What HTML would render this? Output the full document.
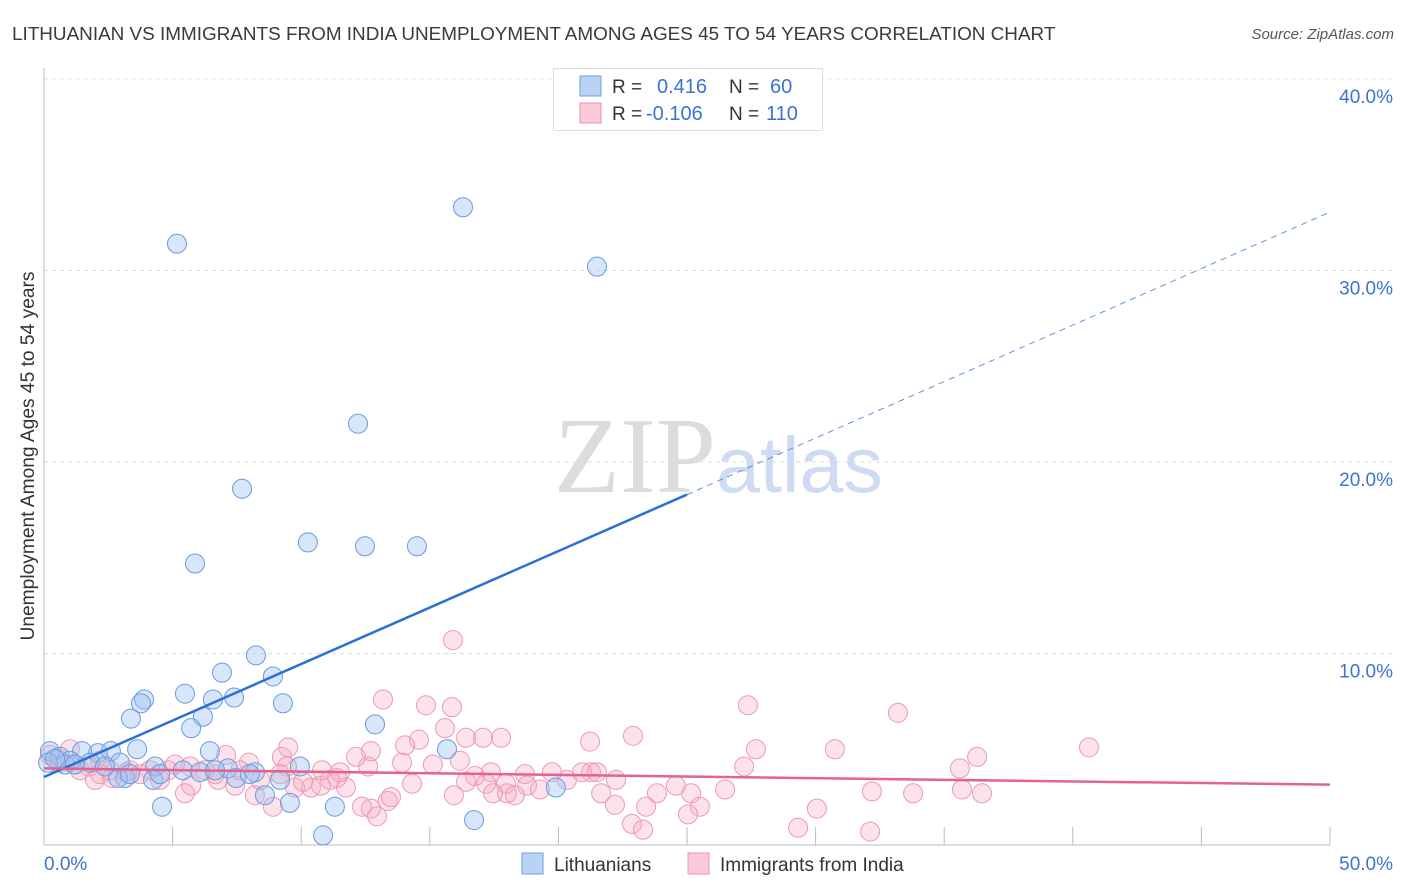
<!DOCTYPE html>
<html><head><meta charset="utf-8">
<style>
body{margin:0;background:#fff;font-family:"Liberation Sans",sans-serif;}
#wrap{position:relative;width:1406px;height:892px;overflow:hidden;}
</style></head>
<body>
<div id="wrap">
<svg id="svg" width="1406" height="892" xmlns="http://www.w3.org/2000/svg">
<text x="12" y="40" font-size="18.9" fill="#3a3a3a">LITHUANIAN VS IMMIGRANTS FROM INDIA UNEMPLOYMENT AMONG AGES 45 TO 54 YEARS CORRELATION CHART</text>
<text x="1394" y="39" font-size="15" fill="#555" font-style="italic" text-anchor="end">Source: ZipAtlas.com</text>
<text x="716" y="492" font-size="108" fill="#dcdcdc" font-family="Liberation Serif,serif" text-anchor="end">ZIP</text>
<text x="716" y="492" font-size="79" fill="#cddcf2">atlas</text>
<text transform="translate(34,456) rotate(-90)" font-size="19.2" fill="#333" text-anchor="middle">Unemployment Among Ages 45 to 54 years</text>
<g id="grid"></g><g id="axes"></g><g id="pts"></g><g id="trend"></g>
<g>
<rect x="553.5" y="68.5" width="269" height="62" fill="#fff" stroke="#ddd"/>
<rect x="580" y="76" width="21" height="20" fill="#b9d3f5" stroke="#6fa0e0"/>
<rect x="580" y="103" width="21" height="20" fill="#fbc9d8" stroke="#ec93b0"/>
<text x="612" y="93" font-size="19" fill="#333">R =</text><text x="657" y="93" font-size="20" fill="#3a73d6">0.416</text>
<text x="729" y="93" font-size="19" fill="#333">N =</text><text x="770" y="93" font-size="20" fill="#3a73d6">60</text>
<text x="612" y="120" font-size="19" fill="#333">R =</text><text x="646" y="120" font-size="20" fill="#3a73d6">-0.106</text>
<text x="729" y="120" font-size="19" fill="#333">N =</text><text x="766" y="120" font-size="20" fill="#3a73d6">110</text>
</g>
<g>
<rect x="522" y="853" width="21" height="21" fill="#b9d3f5" stroke="#6fa0e0"/>
<text x="554" y="871" font-size="19" fill="#333">Lithuanians</text>
<rect x="688" y="853" width="21" height="21" fill="#fbc9d8" stroke="#ec93b0"/>
<text x="720" y="871" font-size="19" fill="#333">Immigrants from India</text>
</g>
</svg>
</div>
<script>
const xTicks=[0,5,10,15,20,25,30,35,40,45,50];
const yTicks=[10,20,30,40];
const yTickLabels=["10.0%","20.0%","30.0%","40.0%"];
const xEndLabels=["0.0%","50.0%"];
const blueX=[5.17,16.29,21.5,12.21,7.7,10.26,12.48,14.5,5.87,8.24,6.92,8.9,5.48,6.57,7.39,3.89,3.77,9.29,3.38,6.18,5.72,12.87,3.62,6.45,15.67,2.1,2.6,1.48,0.23,0.62,1.01,1.79,2.95,4.32,5.4,7.15,9.95,4.24,3.15,6.07,7.47,9.18,8.2,4.59,8.59,9.56,11.31,16.72,10.85,19.9,2.88,0.82,1.2,2.37,0.16,0.43,4.51,6.65,8.0,3.34];
const blueY=[31.4,33.3,30.2,22.0,18.6,15.8,15.6,15.6,14.7,9.9,9.0,8.8,7.9,7.6,7.7,7.6,7.4,7.4,6.6,6.7,6.1,6.3,5.0,4.9,5.0,4.8,4.9,4.9,4.9,4.6,4.4,4.3,4.3,4.1,3.9,4.0,4.1,3.4,3.5,3.8,3.5,3.4,3.8,2.0,2.6,2.2,2.0,1.3,0.5,3.0,3.5,4.2,4.2,4.1,4.3,4.5,3.7,3.9,3.7,3.7];
const pinkX=[13.18,14.85,15.86,15.59,14.58,14.04,16.41,17.07,13.92,15.12,12.6,12.71,12.13,16.17,16.76,17.38,15.94,16.41,11.74,11.39,14.31,13.37,12.71,12.95,13.49,12.36,9.25,9.49,9.45,7.08,7.97,9.18,10.38,10.77,11.12,9.76,10.07,10.81,11.51,8.2,8.9,5.72,5.48,7.43,6.65,5.68,4.82,5.09,4.12,3.73,3.23,2.57,2.18,1.98,1.4,1.01,0.62,0.54,0.23,1.17,1.75,2.18,2.64,3.34,4.51,6.26,7.62,8.4,6.77,17.77,21.23,22.9,18.7,17.19,17.96,18.78,20.33,21.27,19.75,20.92,22.24,21.5,19.28,18.0,18.31,21.66,17.46,23.83,25.16,24.57,26.48,25.5,23.41,22.86,23.29,22.2,25.04,27.37,27.68,27.22,30.75,32.12,29.32,30.05,33.2,40.63,33.79,32.19,35.69,36.28,35.61,36.47,15.9];
const pinkY=[7.6,7.3,7.2,6.1,5.5,5.2,5.6,5.6,4.3,4.2,4.1,4.9,4.6,4.4,3.6,3.8,2.6,3.3,3.0,3.5,3.2,2.3,1.9,1.5,2.5,2.0,4.6,5.1,4.1,4.7,4.3,3.7,3.0,3.1,3.4,3.0,3.3,3.9,3.8,2.6,2.0,3.1,2.7,3.1,3.7,4.1,3.9,4.2,3.9,3.7,3.8,3.9,4.4,3.4,3.9,5.0,4.3,4.5,4.7,4.2,4.1,3.7,3.5,3.9,3.4,3.9,3.9,3.4,3.4,5.6,5.4,5.7,3.7,3.2,3.2,3.1,3.4,3.8,3.8,3.8,3.4,3.8,2.9,2.7,2.6,2.7,2.7,2.7,2.7,3.1,2.9,2.0,2.0,1.1,0.8,2.1,1.6,7.3,5.0,4.1,5.0,0.7,0.9,1.9,6.9,5.1,2.7,2.8,2.9,4.6,4.0,2.7,10.7];
const blueTrend=[3.55,0.59];   // intercept, slope
const pinkTrend=[4.0,-0.017];

const X0=44,X1=1330,Y0=845,PXY=19.15;
const sx=v=>X0+(X1-X0)*v/50;
const sy=v=>Y0-v*PXY;
const NS="http://www.w3.org/2000/svg";
function mk(tag,attrs,parent){const e=document.createElementNS(NS,tag);for(const k in attrs)e.setAttribute(k,attrs[k]);parent.appendChild(e);return e;}
const grid=document.getElementById('grid'),axes=document.getElementById('axes'),pts=document.getElementById('pts'),trend=document.getElementById('trend');
yTicks.forEach((t,i)=>{
  const l=mk('line',{x1:X0,x2:1392,y1:sy(t),y2:sy(t),stroke:'#ddd','stroke-dasharray':'4,4'},grid);
  
  
  const tx=mk('text',{x:1393,y:sy(t)+24,'font-size':19,fill:'#3a73d6','text-anchor':'end'},axes);
  tx.textContent=yTickLabels[i];
  
  
});
const ya=mk('line',{x1:X0,x2:X0,y1:68,y2:Y0,stroke:'#bbb'},axes);


const xa=mk('line',{x1:X0,x2:X1,y1:Y0,y2:Y0,stroke:'#bbb'},axes);


xTicks.forEach(t=>{
  const l=mk('line',{x1:sx(t),x2:sx(t),y1:Y0,y2:Y0-18,stroke:'#bbb'},axes);
  
  
});
[[0,'start',44],[50,'end',1393]].forEach((d,i)=>{
  const tx=mk('text',{x:d[2],y:870,'font-size':19,fill:'#3a73d6','text-anchor':d[1]},axes);
  tx.textContent=xEndLabels[i];
  
  
});
pinkX.forEach((x,i)=>{
  const c=mk('circle',{cx:sx(x),cy:sy(pinkY[i]),r:9.5,fill:'rgba(246,170,195,0.33)',stroke:'#ee98b4','stroke-width':1},pts);
  
  
});
blueX.forEach((x,i)=>{
  const c=mk('circle',{cx:sx(x),cy:sy(blueY[i]),r:9.5,fill:'rgba(160,195,240,0.42)',stroke:'#6a9be0','stroke-width':1},pts);
  
  
});
const bf=x=>blueTrend[0]+blueTrend[1]*x, pf=x=>pinkTrend[0]+pinkTrend[1]*x;
const b1=mk('line',{x1:sx(0),y1:sy(bf(0)),x2:sx(25),y2:sy(bf(25)),stroke:'#2a6fd6','stroke-width':2.5},trend);


const b2=mk('line',{x1:sx(25),y1:sy(bf(25)),x2:sx(50),y2:sy(bf(50)),stroke:'#5e92dc','stroke-width':1,'stroke-dasharray':'6,5'},trend);


const p1=mk('line',{x1:sx(0),y1:sy(pf(0)),x2:sx(50),y2:sy(pf(50)),stroke:'#e5628d','stroke-width':2.5},trend);


</script>
</body></html>
